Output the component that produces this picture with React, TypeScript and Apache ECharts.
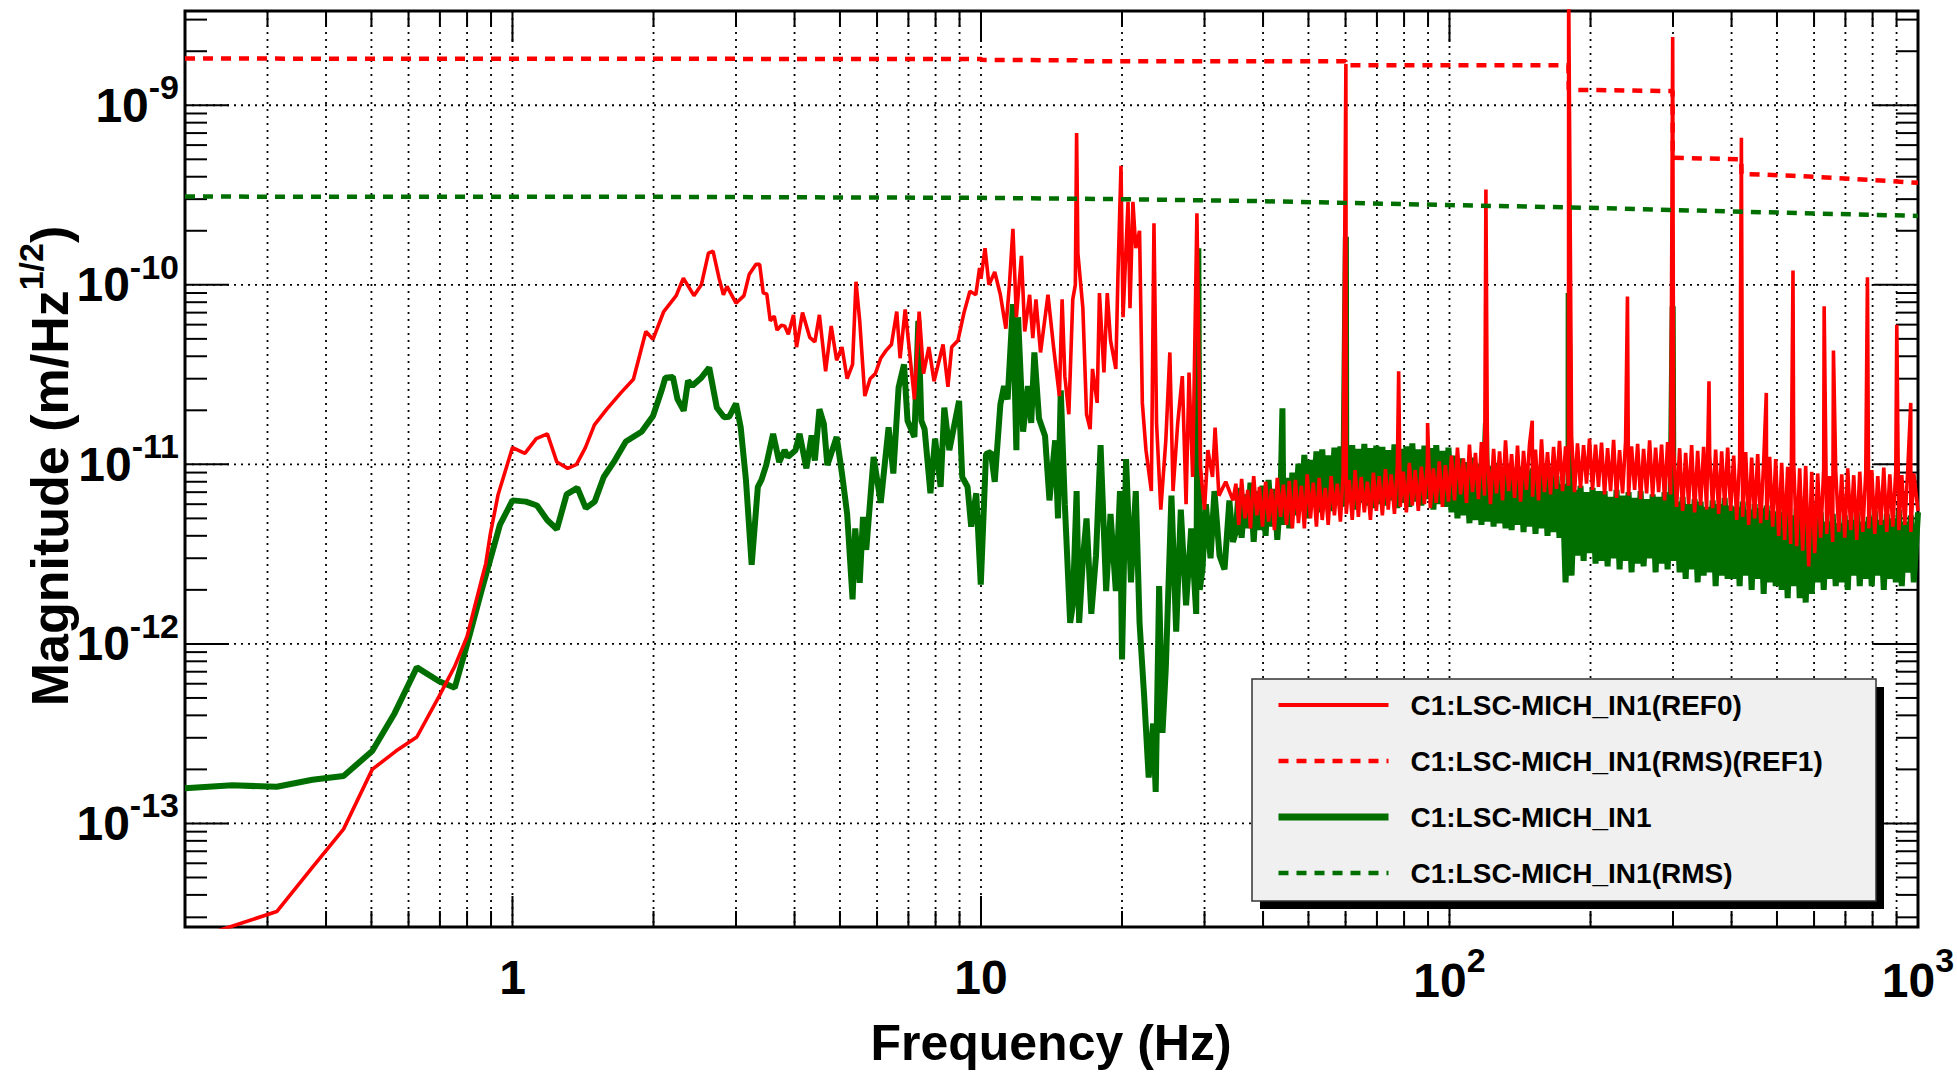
import React, { useEffect, useRef } from 'react';
import * as echarts from 'echarts';

const FONT = '"Liberation Sans", Arimo, Arial, Helvetica, sans-serif';
const PM = 1e-12;

const NAME_REF0 = 'C1:LSC-MICH_IN1(REF0)';
const NAME_REF1 = 'C1:LSC-MICH_IN1(RMS)(REF1)';
const NAME_IN1 = 'C1:LSC-MICH_IN1';
const NAME_RMS = 'C1:LSC-MICH_IN1(RMS)';

// x tick values (Hz)
const xMajorTicks = [1, 10, 100];
const xMinorTicks = [0.3, 0.4, 0.5, 0.6, 0.7, 0.8, 0.9, 2, 3, 4, 5, 6, 7, 8, 9, 20, 30, 40, 50, 60, 70, 80, 90, 200, 300, 400, 500, 600, 700, 800, 900];
// y tick values
const yMajorTicks = [1e-13, 1e-12, 1e-11, 1e-10, 1e-9];
const yMinorTicks = [
  3e-14, 4e-14, 5e-14, 6e-14, 7e-14, 8e-14, 9e-14,
  2e-13, 3e-13, 4e-13, 5e-13, 6e-13, 7e-13, 8e-13, 9e-13,
  2e-12, 3e-12, 4e-12, 5e-12, 6e-12, 7e-12, 8e-12, 9e-12,
  2e-11, 3e-11, 4e-11, 5e-11, 6e-11, 7e-11, 8e-11, 9e-11,
  2e-10, 3e-10, 4e-10, 5e-10, 6e-10, 7e-10, 8e-10, 9e-10,
  2e-9, 3e-9,
];

// REF0 (red), low-frequency part [Hz, m/rtHz]
const redLow = [
  [0.2, 2.2e-14], [0.314, 3.23e-14], [0.374, 5.7e-14], [0.436, 9.3e-14], [0.502, 2.0e-13], [0.564, 2.53e-13],
  [0.625, 3.03e-13], [0.697, 5.1e-13], [0.753, 7.5e-13], [0.8, 1.1e-12], [0.858, 2.25e-12], [0.877, 2.8e-12],
  [0.897, 4.1e-12], [0.932, 6.8e-12], [1.0, 1.24e-11], [1.063, 1.15e-11], [1.124, 1.39e-11], [1.187, 1.48e-11],
  [1.244, 1.03e-11], [1.312, 9.5e-12], [1.37, 1.0e-11], [1.431, 1.24e-11], [1.496, 1.66e-11], [1.59, 2.03e-11],
  [1.705, 2.51e-11], [1.812, 2.98e-11], [1.926, 5.5e-11], [1.995, 4.97e-11], [2.103, 7.1e-11], [2.236, 8.7e-11],
  [2.316, 1.09e-10], [2.44, 8.7e-11], [2.53, 1.0e-10], [2.62, 1.5e-10], [2.68, 1.54e-10], [2.76, 1.09e-10],
  [2.82, 8.8e-11], [2.87, 9.8e-11], [3.0, 7.9e-11], [3.12, 8.7e-11], [3.2, 1.14e-10], [3.31, 1.3e-10],
  [3.37, 1.3e-10], [3.43, 9.0e-11], [3.49, 8.9e-11], [3.55, 6.3e-11], [3.62, 6.7e-11], [3.67, 5.6e-11],
  [3.75, 5.95e-11], [3.81, 5.9e-11], [3.88, 5.3e-11], [3.98, 6.8e-11], [4.04, 4.5e-11], [4.16, 7.0e-11],
  [4.31, 5.1e-11], [4.42, 4.8e-11], [4.52, 6.8e-11], [4.66, 3.3e-11], [4.79, 5.9e-11], [4.92, 3.8e-11],
  [5.05, 4.5e-11], [5.18, 3.0e-11], [5.32, 3.6e-11], [5.41, 1.04e-10], [5.51, 6.3e-11], [5.65, 2.4e-11],
  [5.8, 3.0e-11], [5.95, 3.2e-11], [6.11, 3.9e-11], [6.27, 4.3e-11], [6.44, 4.65e-11], [6.61, 7.1e-11],
  [6.72, 3.9e-11], [6.89, 7.3e-11], [7.21, 2.3e-11], [7.38, 7.1e-11], [7.54, 3.2e-11], [7.74, 4.5e-11],
  [7.94, 2.9e-11], [8.3, 4.65e-11], [8.5, 2.7e-11], [8.66, 4.5e-11], [8.93, 4.9e-11], [9.2, 7.0e-11],
  [9.47, 9.2e-11], [9.75, 8.8e-11], [9.93, 1.24e-10], [10.0, 1.08e-10], [10.2, 1.6e-10], [10.4, 1.0e-10],
  [10.7, 1.18e-10], [11.0, 8.8e-11], [11.3, 5.7e-11], [11.5, 1.0e-10], [11.7, 2.05e-10], [11.9, 6.6e-11],
  [12.2, 1.45e-10], [12.4, 5.5e-11], [12.7, 8.8e-11], [12.9, 5.05e-11], [13.1, 8.3e-11], [13.4, 4.2e-11],
  [13.9, 8.8e-11], [14.3, 4.4e-11], [14.7, 2.4e-11], [14.9, 8.3e-11], [15.1, 3.1e-11], [15.4, 1.9e-11],
  [15.7, 8.3e-11], [15.9, 1.0e-10], [16.0, 7.0e-10], [16.1, 1.5e-10], [16.5, 7.4e-11], [16.8, 1.9e-11],
  [17.1, 1.57e-11], [17.3, 3.4e-11], [17.7, 2.2e-11], [17.9, 9.0e-11], [18.3, 3.25e-11], [18.6, 9.0e-11],
  [18.9, 4.9e-11], [19.4, 3.4e-11], [19.6, 1.1e-10], [19.9, 4.6e-10], [20.1, 6.6e-11], [20.6, 2.9e-10],
  [20.8, 7.4e-11], [21.1, 2.9e-10], [21.4, 1.6e-10], [21.8, 2.0e-10], [22.1, 2.2e-11], [22.5, 1.2e-11],
  [23.1, 7.1e-12], [23.4, 2.2e-10], [23.7, 1.7e-11], [24.2, 5.6e-12], [24.8, 1.35e-11], [25.3, 4.2e-11],
  [25.7, 7.1e-12], [26.3, 1.7e-11], [26.9, 3.1e-11], [27.4, 6.0e-12], [27.8, 3.25e-11], [28.3, 8.5e-12],
  [28.9, 2.5e-10], [29.4, 9.6e-12], [30.0, 5.6e-12], [30.5, 1.2e-11], [31.2, 8.5e-12], [31.6, 1.6e-11],
  [32.2, 6.7e-12], [33.3, 8.0e-12], [34.5, 6.3e-12],
];

// IN1 (green), low-frequency part [Hz, m/rtHz]
const greenLow = [
  [0.2, 1.57e-13], [0.252, 1.63e-13], [0.314, 1.6e-13], [0.374, 1.75e-13], [0.436, 1.84e-13], [0.502, 2.53e-13],
  [0.56, 4.1e-13], [0.625, 7.4e-13], [0.697, 6.2e-13], [0.753, 5.7e-13], [0.804, 1.04e-12], [0.858, 1.96e-12],
  [0.897, 2.96e-12], [0.94, 4.6e-12], [1.0, 6.3e-12], [1.068, 6.2e-12], [1.128, 5.9e-12], [1.186, 4.9e-12],
  [1.244, 4.35e-12], [1.305, 6.8e-12], [1.376, 7.4e-12], [1.434, 5.7e-12], [1.498, 6.2e-12], [1.566, 8.5e-12],
  [1.653, 1.05e-11], [1.746, 1.34e-11], [1.886, 1.52e-11], [1.995, 1.86e-11], [2.085, 2.62e-11], [2.12, 3.04e-11],
  [2.2, 3.07e-11], [2.25, 2.31e-11], [2.32, 1.99e-11], [2.37, 2.92e-11], [2.42, 2.74e-11], [2.53, 3.04e-11],
  [2.63, 3.46e-11], [2.73, 2.07e-11], [2.83, 1.83e-11], [2.9, 1.84e-11], [3.0, 2.18e-11], [3.07, 1.61e-11],
  [3.15, 8.2e-12], [3.24, 2.76e-12], [3.34, 7.5e-12], [3.4, 8.2e-12], [3.48, 9.9e-12], [3.6, 1.48e-11],
  [3.71, 1.03e-11], [3.81, 1.2e-11], [3.87, 1.1e-11], [4.02, 1.2e-11], [4.1, 1.48e-11], [4.24, 9.5e-12],
  [4.35, 1.45e-11], [4.42, 1.05e-11], [4.52, 2.03e-11], [4.62, 1.68e-11], [4.7, 9.9e-12], [4.92, 1.42e-11],
  [5.05, 8.9e-12], [5.18, 5.3e-12], [5.32, 1.77e-12], [5.39, 4.4e-12], [5.51, 2.19e-12], [5.6, 5.1e-12],
  [5.69, 3.34e-12], [5.9, 1.1e-11], [6.11, 6.1e-12], [6.35, 1.61e-11], [6.5, 8.9e-12], [6.67, 2.68e-11],
  [6.85, 3.6e-11], [6.97, 1.75e-11], [7.21, 1.42e-11], [7.35, 6.3e-11], [7.46, 1.75e-11], [7.58, 1.57e-11],
  [7.8, 6.9e-12], [7.98, 1.39e-11], [8.2, 7.5e-12], [8.35, 2.07e-11], [8.56, 1.2e-11], [8.98, 2.26e-11],
  [9.12, 8.5e-12], [9.36, 7.5e-12], [9.53, 4.5e-12], [9.77, 6.9e-12], [9.99, 2.14e-12], [10.25, 1.14e-11],
  [10.5, 1.17e-11], [10.7, 8.0e-12], [11.0, 2.16e-11], [11.2, 2.73e-11], [11.4, 2.3e-11], [11.7, 7.8e-11],
  [11.9, 1.2e-11], [12.0, 6.6e-11], [12.3, 1.52e-11], [12.6, 2.73e-11], [12.8, 1.7e-11], [13.0, 4.2e-11],
  [13.3, 1.8e-11], [13.7, 1.44e-11], [14.0, 6.3e-12], [14.4, 1.36e-11], [14.6, 5.0e-12], [14.8, 2.58e-11],
  [15.1, 6.0e-12], [15.5, 1.31e-12], [15.7, 1.64e-12], [16.0, 7.1e-12], [16.2, 1.31e-12], [16.5, 2.97e-12],
  [16.8, 5.0e-12], [17.2, 1.47e-12], [17.6, 3.1e-12], [18.0, 1.28e-11], [18.5, 1.97e-12], [18.9, 5.3e-12],
  [19.4, 1.97e-12], [19.8, 7.1e-12], [20.0, 8.2e-13], [20.4, 1.07e-11], [20.9, 2.2e-12], [21.4, 7.1e-12],
  [21.8, 1.31e-12], [22.3, 5.1e-13], [22.8, 1.8e-13], [23.3, 3.6e-13], [23.6, 1.5e-13], [24.0, 2.1e-12],
  [24.4, 3.2e-13], [24.8, 7.3e-13], [25.5, 6.7e-12], [26.1, 1.17e-12], [26.7, 5.6e-12], [27.4, 1.64e-12],
  [28.1, 4.4e-12], [28.8, 1.47e-12], [29.1, 1.6e-10], [29.3, 2.0e-12], [29.7, 2.6e-12], [30.2, 6.0e-12],
  [30.9, 3.0e-12], [31.5, 7.1e-12], [32.3, 3.1e-12], [33.1, 2.6e-12], [33.9, 6.3e-12], [34.5, 3.7e-12],
];

// High-frequency noise band sample frequencies (Hz)
const bandFreq = [
  35, 35.5, 36, 36.6, 37.1, 37.6, 38.2, 38.8, 39.3, 39.9,
  40.5, 41.1, 41.7, 42.3, 42.9, 43.6, 44.2, 44.9, 45.5, 46.2,
  46.9, 47.6, 48.3, 49.0, 49.7, 50.5, 51.2, 52.0, 52.7, 53.5,
  54.3, 55.1, 55.9, 56.8, 57.6, 58.5, 59.3, 60.2, 61.1, 62.0,
  62.9, 63.9, 64.8, 65.8, 66.8, 67.8, 68.8, 69.8, 70.8, 71.9,
  73.0, 74.0, 75.1, 76.3, 77.4, 78.5, 79.7, 80.9, 82.1, 83.3,
  84.5, 85.8, 87.1, 88.4, 89.7, 91.0, 92.4, 93.7, 95.1, 96.6,
  98.0, 99.5,
  101, 102.5, 104, 105.6, 107.1, 108.7, 110.3, 112, 113.6, 115.3,
  117, 118.8, 120.5, 122.3, 124.2, 126, 127.9, 129.8, 131.7, 133.7,
  135.7, 137.7, 139.7, 141.8, 143.9, 146, 148.2, 150.4, 152.6, 154.9,
  157.2, 159.5, 161.9, 164.3, 166.8, 169.2, 171.7, 174.3, 176.9, 179.5,
  182.2, 184.9, 187.6, 190.4, 193.3, 196.1, 199, 202, 205, 208,
  211.1, 214.3, 217.5, 220.7, 224, 227.3, 230.7, 234.1, 237.6, 241.1,
  244.7, 248.4, 252.1, 255.8, 259.6, 263.5, 267.4, 271.4, 275.4, 279.5,
  283.6, 287.8, 292.1, 296.5, 300.9, 305.3, 309.9, 314.5, 319.2, 323.9,
  328.7, 333.6, 338.6, 343.6, 348.7, 353.9, 359.2, 364.5, 369.9, 375.4,
  381, 386.7, 392.4, 398.2, 404.2, 410.2, 416.2, 422.4, 428.7, 435.1,
  441.5, 448.1, 454.8, 461.5, 468.4, 475.3, 482.4, 489.6, 496.9, 504.2,
  511.7, 519.3, 527, 534.9, 542.8, 550.9, 559.1, 567.4, 575.8, 584.4,
  593.1, 601.9, 610.8, 619.9, 629.1, 638.5, 648, 657.6, 667.4, 677.3,
  687.4, 697.6, 708, 718.5, 729.2, 740, 751, 762.2, 773.5, 785,
  796.7, 808.5, 820.6, 832.8, 845.2, 857.7, 870.5, 883.4, 896.6, 909.9,
  923.4, 937.2, 951.1, 965.3, 979.6, 1000,
];

// REF0 band values (pm/rtHz)
const redBandPm = [
  7.8, 4.6, 8.3, 5.0, 7.2, 4.4, 8.6, 5.2, 7.5, 4.5, 8.0, 4.8, 7.3, 4.3, 8.4, 5.1, 7.7, 4.6, 8.1, 4.4,
  8.2, 4.7, 7.6, 4.4, 8.8, 5.0, 7.9, 4.5, 8.4, 4.9, 7.4, 4.6, 8.6, 5.2, 7.8,
  4.8, 8.9, 5.3, 8.2, 4.9, 9.3, 5.1, 8.5, 5.4, 8.0, 4.9, 9.0, 5.5, 8.6,
  5.2, 9.4, 5.6, 8.8, 5.3, 9.8, 5.8, 9.1, 5.4, 10.2, 5.9, 9.3, 5.5, 9.7, 6.0, 10.1, 5.7, 9.5, 6.1, 10.4, 5.8, 9.9, 6.2,
  11.2, 6.3, 12.4, 6.8, 10.8, 6.1, 12.9, 7.0, 11.6, 6.4, 13.3, 6.7, 11.0, 6.0, 12.2, 6.9, 11.8, 6.3, 13.6, 7.1,
  11.4, 6.5, 12.7, 6.2, 11.9, 7.2, 13.0, 6.6, 12.1, 6.3, 13.8, 7.0, 11.7, 6.8, 12.5,
  7.3, 13.5, 7.1, 12.6, 7.6, 14.2, 7.0, 13.1, 7.4, 12.8, 7.8, 13.9, 7.2, 12.9, 7.5,
  13.2, 6.8, 12.3, 7.1, 13.7, 6.5, 12.0, 6.9, 13.4, 6.7, 12.6, 7.2, 13.0, 6.4, 12.2, 6.9, 13.6, 6.6, 12.4, 7.0,
  12.9, 6.3, 13.3, 6.8, 12.1,
  5.8, 12.3, 5.5, 11.6, 6.0, 12.8, 5.4, 11.9, 5.9, 12.5, 5.6, 11.3, 5.7, 12.1, 5.3, 11.8, 5.9, 12.4, 5.5,
  11.2, 4.9, 10.6, 5.1, 11.7, 4.6, 10.9, 5.0, 11.4, 4.7, 10.3, 4.9, 11.0, 4.5, 10.7,
  4.0, 10.2, 3.8, 9.7, 3.6, 10.4, 3.5, 9.5, 3.3, 9.8, 2.7, 9.1,
  3.2, 8.9, 3.9, 9.4, 4.1, 8.6, 3.7, 9.2, 4.2, 8.8, 3.9, 9.5, 4.3, 8.7, 3.8, 9.1, 4.2,
  8.9, 4.4, 9.3, 4.1, 8.6, 4.6, 9.6, 4.2, 8.8, 4.5, 9.2, 4.3, 8.7, 4.6, 9.4, 4.2, 8.9, 5.5,
];

// IN1 band values (pm/rtHz)
const greenBandPm = [
  4.2, 7.4, 3.9, 6.8, 4.4, 7.9, 3.7, 7.1, 4.3, 7.6, 4.0, 8.2, 4.5, 7.3, 3.8, 6.9, 4.6, 8.4, 4.4, 9.0,
  5.2, 10.1, 5.6, 11.3, 5.0, 10.6, 5.8, 11.8, 5.4, 12.1, 5.9, 11.2, 5.5, 12.4, 6.0,
  12.6, 5.8, 11.9, 6.2, 12.8, 5.6, 12.2, 6.1, 13.0, 5.9, 12.3, 5.7, 12.7, 6.0,
  12.5, 5.9, 12.0, 6.3, 12.9, 5.7, 12.2, 6.1, 12.6, 5.8, 13.1, 6.2, 12.1, 5.9, 12.7, 6.4, 12.3, 5.6, 12.8, 6.0,
  11.9, 5.8, 12.4,
  5.4, 11.2, 5.0, 10.8, 5.2, 10.3, 4.7, 10.9, 4.9, 10.1, 4.6, 10.5, 4.8, 9.8, 4.5, 10.2, 4.7, 9.6, 4.4, 9.9,
  4.3, 9.4, 4.6, 9.7, 4.2, 9.2, 4.5, 9.5, 4.1, 9.0, 4.4, 8.8, 4.0, 9.1, 4.2,
  8.6, 3.9, 7.8, 2.2, 6.5, 2.4, 7.2, 3.1, 7.6, 2.9, 7.0, 3.2, 7.4, 2.8, 7.1,
  2.9, 7.1, 2.7, 6.6, 3.0, 7.2, 2.6, 6.7, 2.9, 7.0, 2.5, 6.5, 2.8, 7.1, 2.7, 6.4, 3.0, 6.8, 2.5, 6.6,
  2.8, 7.0, 2.6, 6.3, 2.9,
  6.2, 2.5, 6.6, 2.3, 6.0, 2.6, 6.4, 2.2, 6.2, 2.4, 5.8, 2.5, 6.3, 2.1, 6.0, 2.4, 6.5, 2.3, 5.9,
  2.3, 5.8, 2.1, 6.2, 2.4, 5.6, 2.0, 6.0, 2.3, 5.7, 1.9, 5.9, 2.2, 5.5, 2.1,
  5.4, 2.0, 5.8, 1.8, 5.2, 2.1, 5.7, 1.8, 5.3, 1.7, 5.6, 1.9,
  5.0, 2.2, 5.4, 2.0, 4.8, 2.3, 5.3, 2.1, 4.7, 2.2, 5.2, 2.0, 4.9, 2.4, 5.4, 2.1, 4.8,
  2.3, 5.1, 2.1, 5.5, 2.4, 4.9, 2.0, 5.3, 2.3, 5.0, 2.2, 5.6, 2.1, 4.8, 2.5, 5.2, 2.2, 5.4,
];

// narrow lines (spikes) above 35 Hz [Hz, m/rtHz]
const redSpikes = [
  [60.1, 1.7e-9], [77.9, 3.3e-11], [89.8, 1.7e-11], [119.6, 3.4e-10], [150.2, 1.75e-11], [179.6, 5e-9],
  [239.8, 8.6e-11], [299.5, 2.4e-9], [358, 2.9e-11], [419.8, 6.6e-10], [474.5, 2.5e-11], [541, 1.2e-10],
  [630.5, 7.6e-11], [660, 4.3e-11], [780, 1.1e-10], [901, 6.0e-11], [965, 2.2e-11],
];
const greenSpikes = [
  [44.0, 2.05e-11], [60.1, 1.85e-10], [119.6, 1.7e-11], [179.6, 9.0e-11], [299.5, 7.6e-11],
];

// cumulative RMS curves [Hz, m/rtHz]
const redRms = [
  [0.2, 1.82e-9], [10, 1.81e-9], [10.05, 1.79e-9], [16, 1.78e-9], [16.05, 1.76e-9], [60.05, 1.76e-9],
  [60.15, 1.67e-9], [179.4, 1.67e-9], [179.7, 1.22e-9], [299.3, 1.2e-9], [299.7, 5.1e-10], [419.5, 5.0e-10],
  [420.1, 4.15e-10], [540, 4.05e-10], [780, 3.85e-10], [1000, 3.7e-10],
];
const greenRms = [
  [0.2, 3.1e-10], [2, 3.09e-10], [10, 3.05e-10], [20, 3.0e-10], [38, 2.93e-10], [60, 2.86e-10],
  [100, 2.78e-10], [180, 2.7e-10], [300, 2.61e-10], [430, 2.55e-10], [1000, 2.42e-10],
];

const byFreq = (a: number[], b: number[]) => a[0] - b[0];
const redData = [...redLow, ...bandFreq.map((f, i) => [f, redBandPm[i] * PM]), ...redSpikes].sort(byFreq);
const greenData = [...greenLow, ...bandFreq.map((f, i) => [f, greenBandPm[i] * PM]), ...greenSpikes].sort(byFreq);

const RED = '#ff0000';
const GREEN = '#006f00';

const decadeExp = (v: number): number | null => {
  const l = Math.log10(v);
  const e = Math.round(l);
  return Math.abs(l - e) < 1e-6 ? e : null;
};

const isMajor = (v: number) => decadeExp(v) !== null;

const baseRich = {
  b: { fontSize: 48, fontWeight: 'bold', fontFamily: FONT, color: '#000', lineHeight: 68 },
};

function buildOption(): any {
  const xTicks = [...xMajorTicks, ...xMinorTicks].map((f) => [f, 1e-11]);
  const yTicks = [...yMajorTicks, ...yMinorTicks].map((v) => [1, v]);

  return {
    animation: false,
    backgroundColor: '#ffffff',
    grid: {
      left: 185, right: 39, top: 11, bottom: 148,
      show: true, borderColor: '#000', borderWidth: 3, backgroundColor: 'transparent',
      containLabel: false, outerBoundsMode: 'none',
    },
    xAxis: {
      type: 'log', logBase: 10, min: 0.2, max: 1000,
      axisLine: { show: false }, axisTick: { show: false }, splitLine: { show: false },
      minorTick: { show: false }, minorSplitLine: { show: false },
      axisLabel: {
        margin: 16, showMaxLabel: true, showMinLabel: false,
        formatter: (v: number) => {
          const e = decadeExp(v);
          if (e === null) return '';
          if (e === 0) return '{b|1}';
          if (e === 1) return '{b|10}';
          return `{b|10}{s|${e}}`;
        },
        rich: {
          ...baseRich,
          s: { fontSize: 34, fontWeight: 'bold', fontFamily: FONT, color: '#000', padding: [0, 0, 40, 0] },
        },
      },
    },
    yAxis: {
      type: 'log', logBase: 10, min: 2.65e-14, max: 3.35e-9,
      axisLine: { show: false }, axisTick: { show: false }, splitLine: { show: false },
      minorTick: { show: false }, minorSplitLine: { show: false },
      axisLabel: {
        margin: 6,
        formatter: (v: number) => {
          const e = decadeExp(v);
          if (e === null) return '';
          return `{b|10}{s|${e}}`;
        },
        rich: {
          ...baseRich,
          s: { fontSize: 34, fontWeight: 'bold', fontFamily: FONT, color: '#000', padding: [0, 0, 36, 0] },
        },
      },
    },
    legend: {
      orient: 'vertical', left: 1275, top: 690, padding: 0,
      itemWidth: 110, itemHeight: 20, itemGap: 26,
      selectedMode: false, z: 30,
      itemStyle: { opacity: 0 },
      data: [
        { name: NAME_REF0, lineStyle: { width: 4 } },
        { name: NAME_REF1, lineStyle: { width: 4.5 } },
        { name: NAME_IN1, lineStyle: { width: 7 } },
        { name: NAME_RMS, lineStyle: { width: 4.5 } },
      ],
      textStyle: { fontSize: 28, fontWeight: 'bold', fontFamily: FONT, color: '#000', lineHeight: 30, padding: [0, 0, 0, 17] },
    },
    graphic: [
      { type: 'rect', z: 20, silent: true, shape: { x: 1260, y: 687, width: 624, height: 222 }, style: { fill: '#000' } },
      { type: 'rect', z: 21, silent: true, shape: { x: 1252, y: 679, width: 624, height: 222 }, style: { fill: '#f0f0f0', stroke: '#333', lineWidth: 1.5 } },
      {
        type: 'text', z: 20, silent: true, x: 1051, y: 1043,
        style: { text: 'Frequency (Hz)', fontSize: 50, fontWeight: 'bold', fontFamily: FONT, fill: '#000', align: 'center', verticalAlign: 'middle' },
      },
      {
        type: 'text', z: 20, silent: true, x: 50, y: 466, rotation: Math.PI / 2,
        style: {
          text: '{t|Magnitude (m/Hz}{s|1/2}{t|)}', fill: '#000', align: 'center', verticalAlign: 'middle',
          rich: {
            t: { fontSize: 52, fontWeight: 'bold', fontFamily: FONT, fill: '#000', lineHeight: 70 },
            s: { fontSize: 34, fontWeight: 'bold', fontFamily: FONT, fill: '#000', padding: [0, 0, 38, 0] },
          },
        },
      },
    ],
    series: [
      {
        name: 'xgrid', type: 'custom', silent: true, z: 1, clip: false,
        data: xTicks,
        renderItem: (params: any, api: any) => {
          const f = api.value(0);
          const cs = params.coordSys;
          const x = api.coord([f, 1e-11])[0];
          const top = cs.y;
          const bot = cs.y + cs.height;
          const L = isMajor(f) ? 31 : 16;
          return {
            type: 'group',
            children: [
              { type: 'line', shape: { x1: x, y1: top, x2: x, y2: bot }, style: { stroke: '#000', lineWidth: 1.8, lineDash: [2, 5] } },
              { type: 'line', shape: { x1: x, y1: bot, x2: x, y2: bot - L }, style: { stroke: '#000', lineWidth: 2 } },
              { type: 'line', shape: { x1: x, y1: top, x2: x, y2: top + L }, style: { stroke: '#000', lineWidth: 2 } },
            ],
          };
        },
      },
      {
        name: 'ygrid', type: 'custom', silent: true, z: 1, clip: false,
        data: yTicks,
        renderItem: (params: any, api: any) => {
          const v = api.value(1);
          const cs = params.coordSys;
          const y = api.coord([1, v])[1];
          const left = cs.x;
          const right = cs.x + cs.width;
          const major = isMajor(v);
          const L = major ? 44 : 22;
          const children: any[] = [
            { type: 'line', shape: { x1: left, y1: y, x2: left + L, y2: y }, style: { stroke: '#000', lineWidth: 2 } },
            { type: 'line', shape: { x1: right, y1: y, x2: right - L, y2: y }, style: { stroke: '#000', lineWidth: 2 } },
          ];
          if (major) {
            children.unshift({ type: 'line', shape: { x1: left, y1: y, x2: right, y2: y }, style: { stroke: '#000', lineWidth: 1.8, lineDash: [2, 5] } });
          }
          return { type: 'group', children };
        },
      },
      {
        name: NAME_IN1, type: 'line', data: greenData, symbol: 'none', showSymbol: false, silent: true, z: 3, clip: true,
        lineStyle: { color: GREEN, width: 6 }, itemStyle: { color: GREEN },
      },
      {
        name: NAME_REF0, type: 'line', data: redData, symbol: 'none', showSymbol: false, silent: true, z: 4, clip: true,
        lineStyle: { color: RED, width: 3.6 }, itemStyle: { color: RED },
      },
      {
        name: NAME_RMS, type: 'line', data: greenRms, symbol: 'none', showSymbol: false, silent: true, z: 5, clip: true,
        lineStyle: { color: GREEN, width: 4.5, type: [10, 8] }, itemStyle: { color: GREEN },
      },
      {
        name: NAME_REF1, type: 'line', data: redRms, symbol: 'none', showSymbol: false, silent: true, z: 5, clip: true,
        lineStyle: { color: RED, width: 4.5, type: [10, 8] }, itemStyle: { color: RED },
      },
    ],
  };
}

export default function App() {
  const ref = useRef<HTMLDivElement>(null);
  useEffect(() => {
    document.body.style.margin = '0';
    const chart = echarts.init(ref.current as HTMLDivElement, null, { renderer: 'svg' });
    chart.setOption(buildOption());
    return () => chart.dispose();
  }, []);
  return <div ref={ref} style={{ width: 1957, height: 1075 }} />;
}
